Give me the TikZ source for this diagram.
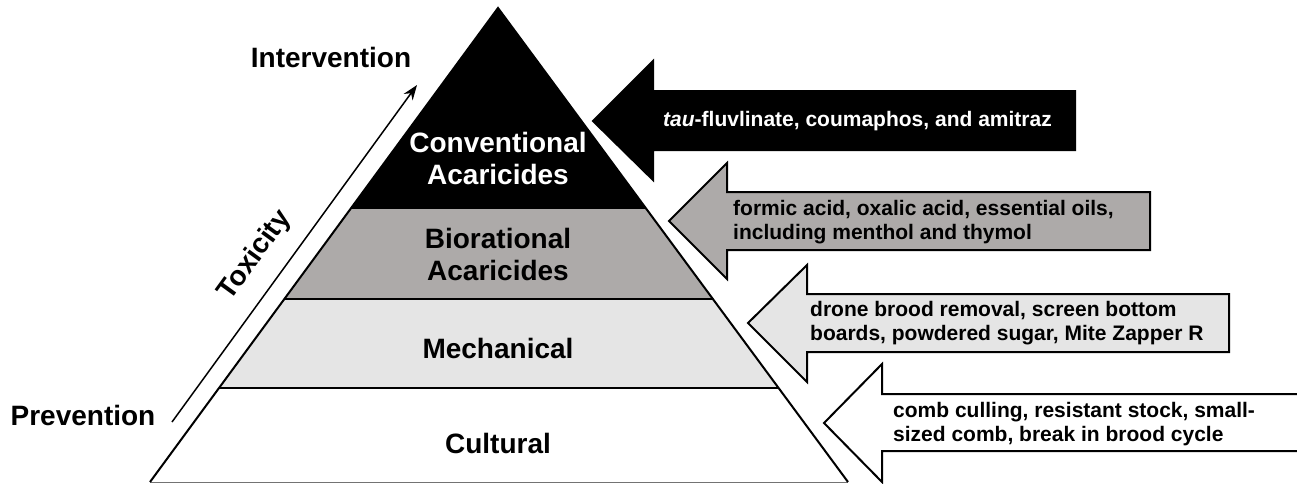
\documentclass[tikz,border=0pt]{standalone}
\usepackage{fontspec}
\setmainfont{Liberation Sans}
\usetikzlibrary{calc}
\usetikzlibrary{arrows.meta}
\definecolor{biogray}{RGB}{173,170,169}
\definecolor{mechgray}{RGB}{229,229,229}
\tikzset{
	layer/.style={
		font=\fontsize{28}{32}\selectfont\bfseries,
		align=center,
		inner sep=0pt},
	pointer/.style={draw=black, line width=2pt, line join=miter},
	pointtext/.style={
		font=\fontsize{21}{24}\selectfont\bfseries,
		align=left,
		anchor=west,
		inner sep=0pt},
	band/.style={draw=black, line width=2pt},
}
\begin{document}
\begin{tikzpicture}[x=1pt, y=-1pt]
	\useasboundingbox (0,0) rectangle (1297,483);
	\coordinate (apex) at (498,8);
	\coordinate (bl) at (150,482);
	\coordinate (br) at (848,482);
	\coordinate (l1) at ($(apex)!.4219!(bl)$);
	\coordinate (r1) at ($(apex)!.4219!(br)$);
	\coordinate (l2) at ($(apex)!.6139!(bl)$);
	\coordinate (r2) at ($(apex)!.6139!(br)$);
	\coordinate (l3) at ($(apex)!.8017!(bl)$);
	\coordinate (r3) at ($(apex)!.8017!(br)$);
	% pyramid
	\fill[black] (apex) -- (l1) -- (r1) -- cycle;
	\fill[biogray] (l1) -- (l2) -- (r2) -- (r1) -- cycle;
	\fill[mechgray] (l2) -- (l3) -- (r3) -- (r2) -- cycle;
	\draw[band] (l1) -- (r1);
	\draw[band] (l2) -- (r2);
	\draw[band] (l3) -- (r3);
	\draw[black!55, line width=1pt] (bl) -- (br);
	\draw[line width=2pt, line join=miter] (bl) -- (apex) -- (br);
	\node[layer, text=white] (conv) at (498,158) {Conventional\\Acaricides};
	\node[layer] (bio) at (498,254) {Biorational\\Acaricides};
	\node[layer] (mech) at (498,348) {Mechanical};
	\node[layer] (cult) at (498,443) {Cultural};
	% arrows
	\filldraw[pointer, fill=black] (593,121) -- (653,61) -- (653,91) -- (1075,91) -- (1075,150) -- (653,150) -- (653,180) -- cycle;
	\filldraw[pointer, fill=biogray] (669,221) -- (727,163) -- (727,192) -- (1150,192) -- (1150,250) -- (727,250) -- (727,279) -- cycle;
	\filldraw[pointer, fill=mechgray] (748,323) -- (807,265) -- (807,294) -- (1229,294) -- (1229,352) -- (807,352) -- (807,382) -- cycle;
	\filldraw[pointer, fill=white] (824,423) -- (882,364) -- (882,394) -- (1310,394) -- (1310,451) -- (882,451) -- (882,482) -- cycle;
	\node[pointtext, text=white] (tau) at (663,121) {\textit{tau}-fluvlinate, coumaphos, and amitraz};
	\node[pointtext] (formic) at (733,222) {formic acid, oxalic acid, essential oils,\\including menthol and thymol};
	\node[pointtext] (drone) at (810,323) {drone brood removal, screen bottom\\boards, powdered sugar, Mite Zapper R};
	\node[pointtext] (comb) at (893,424) {comb culling, resistant stock, small-\\sized comb, break in brood cycle};
	% toxicity
	\node[layer] (inter) at (331,57) {Intervention};
	\node[layer] (prev) at (83,415) {Prevention};
	\coordinate (low) at (172,422);
	\coordinate (high) at (417,85);
	\draw[line width=1.5pt, -{Stealth[length=15pt, width=11pt]}] (low) -- (high)
		node[layer, sloped, pos=.44, above=17pt] (tox) {Toxicity};
\end{tikzpicture}
\end{document}
